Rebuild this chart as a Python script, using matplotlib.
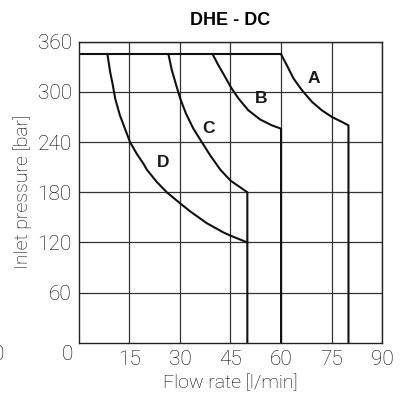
import matplotlib.pyplot as plt

# chart data
x_ticks = [15, 30, 45, 60, 75, 90]
y_ticks = [60, 120, 180, 240, 300, 360]

top_flow = [0, 60]
top_press = [345, 345]

d_flow = [8.5, 9.3, 10.1, 10.8, 12.2, 13.7, 15.2, 17.2, 19.2, 20.2, 23.0, 26.1,
          30.0, 33.1, 38.0, 42.9, 45.1, 50.0]
d_press = [345, 324, 308, 292, 272, 256, 240, 226, 214, 207, 193, 180,
           167, 157, 143, 132, 128, 120]

c_flow = [26.6, 27.6, 28.9, 30.1, 31.8, 34.0, 36.5, 39.0, 42.0, 45.0, 50.0, 50.0]
c_press = [345, 326, 308, 292, 274, 256, 240, 224, 207, 194, 180, 0]

b_flow = [39.7, 41.4, 43.4, 45.2, 47.4, 50.3, 53.8, 57.3, 60.0, 60.0]
b_press = [345, 332, 318, 305, 292, 278, 267, 260, 256, 0]

a_flow = [60.0, 61.7, 63.7, 66.2, 69.2, 72.1, 75.1, 78.1, 80.0, 80.0]
a_press = [345, 332, 316, 302, 288, 278, 270, 264, 260, 0]

labels = ['A', 'B', 'C', 'D']
label_x = [69.6, 54.1, 38.5, 25.1]
label_y = [316, 292, 256, 216]

tick_font = 'Roboto'
tick_w = 'light'
txt = '#000000'

fig = plt.figure(figsize=(4.04, 4.01), dpi=100)
ax = fig.add_axes([0.195, 0.145, 0.751, 0.751])
ax.set_xlim(0, 90)
ax.set_ylim(0, 360)

ax.set_xticks(x_ticks)
ax.set_yticks(y_ticks)
ax.set_xticklabels([str(v) for v in x_ticks], fontsize=15, family=tick_font, fontweight=tick_w)
ax.set_yticklabels([str(v) for v in y_ticks], fontsize=15, family=tick_font, fontweight=tick_w)
ax.tick_params(length=0, pad=5, colors=txt)
ax.grid(True, color='#333333', lw=0.9)
ax.set_axisbelow(True)
for s in ax.spines.values():
    s.set_color('#222222')
    s.set_linewidth(1.0)

# stray zero labels at the bottom left
ax.text(-3.5, -14, '0', ha='center', va='center', fontsize=15, family=tick_font,
        fontweight=tick_w, color=txt, clip_on=False)
fig.text(0.011, 0.115, '0', ha='right', va='center', fontsize=15, family=tick_font,
         fontweight=tick_w, color=txt)

lc = '#111111'
ax.plot(top_flow, top_press, color=lc, lw=1.5)
ax.plot(d_flow, d_press, color=lc, lw=1.5)
ax.plot(c_flow, c_press, color=lc, lw=1.5)
ax.plot(b_flow, b_press, color=lc, lw=1.5)
ax.plot(a_flow, a_press, color=lc, lw=1.5)

for lab, lx, ly in zip(labels, label_x, label_y):
    ax.text(lx, ly, lab, ha='center', va='center', fontsize=12.5, fontweight='bold',
            family='Liberation Sans', color='#1a1a1a')

ax.set_title('DHE - DC', fontsize=13, fontweight='bold', family='Liberation Sans', pad=12)
ax.set_xlabel('Flow rate [l/min]', fontsize=14, family=tick_font, fontweight=tick_w,
              labelpad=4, color=txt)
ax.set_ylabel('Inlet pressure [bar]', fontsize=14, family=tick_font, fontweight=tick_w,
              labelpad=4, color=txt)

fig.savefig('out.png', dpi=100)
